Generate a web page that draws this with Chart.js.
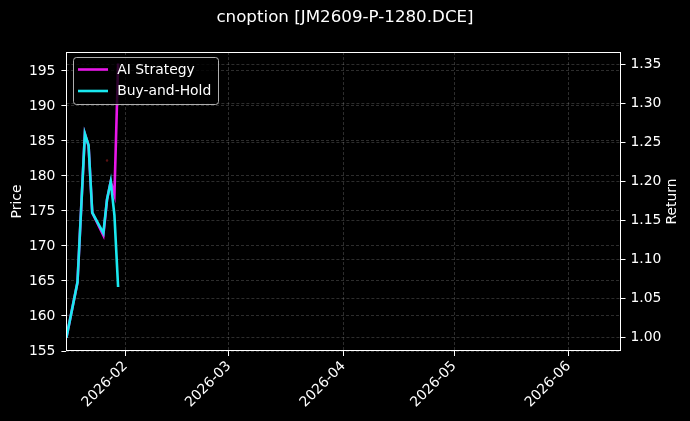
<!DOCTYPE html>
<html>
<head>
<meta charset="utf-8">
<script src="https://cdn.jsdelivr.net/npm/chart.js@4.4.1/dist/chart.umd.min.js"></script>
<style>
  html, body { margin: 0; padding: 0; background: #000; }
  #wrap { width: 690px; height: 421px; }
</style>
</head>
<body>
<div id="wrap"><canvas id="chart" width="690" height="421"></canvas></div>
<script>
// ===== Data =====
const chartTitle = "cnoption [JM2609-P-1280.DCE]";
const dates = ["2026-01-16", "2026-01-19", "2026-01-21", "2026-01-22", "2026-01-23",
               "2026-01-26", "2026-01-27", "2026-01-28", "2026-01-29", "2026-01-30"];
const aiStrategy = [1.000, 1.071, 1.261, 1.246, 1.160, 1.131, 1.177, 1.200, 1.183, 1.351];
const buyAndHold = [1.000, 1.071, 1.261, 1.246, 1.160, 1.134, 1.177, 1.200, 1.157, 1.065];
const signalDates = ["2026-01-27"];
const signalPrices = [182.2];

const monthTicks = ["2026-02-01", "2026-03-01", "2026-04-01", "2026-05-01", "2026-06-01"];
const priceTicks = [155, 160, 165, 170, 175, 180, 185, 190, 195];
const returnTicks = [1.00, 1.05, 1.10, 1.15, 1.20, 1.25, 1.30, 1.35];
const xRange = ["2026-01-16", "2026-06-15"];
const priceRange = [155, 197.7];
const returnRange = [0.983, 1.3657];

// ===== Helpers =====
const DAY = 86400000;
const toDay = (s) => Date.parse(s + "T00:00:00Z") / DAY;
const fmtMonth = (d) => new Date(d * DAY).toISOString().slice(0, 7);

const FONT = "DejaVu Sans";
const TICK_SIZE = 13.9;
const LINE_W = 2.6;
const gridColor = "rgba(170, 170, 170, 0.45)";

Chart.defaults.font.family = FONT;
Chart.defaults.font.size = TICK_SIZE;
Chart.defaults.color = "#fff";

// frame, axis titles and the boxed legend like matplotlib draws them
const framePlugin = {
  id: "frame",
  afterDatasetsDraw(chart) {
    const { ctx, chartArea: a } = chart;
    ctx.save();
    ctx.strokeStyle = "#fff";
    ctx.lineWidth = 1;
    const l = Math.round(a.left) + 0.5, t = Math.round(a.top) + 0.5;
    const r = Math.round(a.right) - 0.5, b = Math.round(a.bottom) - 0.5;
    ctx.strokeRect(l, t, r - l, b - t);

    // axis titles, both read bottom-to-top
    ctx.fillStyle = "#fff";
    ctx.font = `${TICK_SIZE}px "${FONT}"`;
    ctx.textAlign = "center";
    ctx.textBaseline = "middle";
    const midY = (a.top + a.bottom) / 2;
    [["Price", 17], ["Return", 672]].forEach(([txt, x]) => {
      ctx.save();
      ctx.translate(x, midY);
      ctx.rotate(-Math.PI / 2);
      ctx.fillText(txt, 0, 0);
      ctx.restore();
    });

    // legend
    const items = chart.data.datasets.filter(ds => ds.inLegend !== false);
    const boxX = Math.round(a.left + 6.6) + 0.5, boxY = Math.round(a.top + 5.3) + 0.5;
    const rowH = 21.5;
    const textW = Math.max(...items.map(ds => ctx.measureText(ds.label).width));
    const boxW = Math.round(43.7 + textW + 7.5);
    const boxH = Math.round(items.length * rowH + 4);
    ctx.beginPath();
    ctx.roundRect(boxX, boxY, boxW, boxH, 3);
    ctx.fillStyle = "rgba(0, 0, 0, 0.8)";
    ctx.fill();
    ctx.strokeStyle = "rgba(204, 204, 204, 0.85)";
    ctx.stroke();
    ctx.textAlign = "left";
    items.forEach((ds, i) => {
      const y = boxY + 12 + i * rowH;
      ctx.strokeStyle = ds.borderColor;
      ctx.lineWidth = LINE_W;
      ctx.beginPath();
      ctx.moveTo(boxX + 4.5, y);
      ctx.lineTo(boxX + 34.5, y);
      ctx.stroke();
      ctx.fillStyle = "#fff";
      ctx.fillText(ds.label, boxX + 43.7, y + 0.5);
    });
    ctx.restore();
  }
};

const toPoints = (xs, ys) => xs.map((d, i) => ({ x: toDay(d), y: ys[i] }));

const axisGrid = {
  color: gridColor,
  lineWidth: 0.6,
  tickColor: "#fff",
  tickWidth: 1,
  tickLength: 5,
  tickBorderDash: []
};

const ctx = document.getElementById("chart").getContext("2d");

new Chart(ctx, {
  type: "line",
  data: {
    datasets: [
      {
        label: "AI Strategy",
        data: toPoints(dates, aiStrategy),
        borderColor: "#e817e8",
        borderWidth: LINE_W,
        pointRadius: 0,
        tension: 0,
        yAxisID: "y1",
        order: 2
      },
      {
        label: "Buy-and-Hold",
        data: toPoints(dates, buyAndHold),
        borderColor: "#1ae8ef",
        borderWidth: LINE_W,
        pointRadius: 0,
        tension: 0,
        yAxisID: "y1",
        order: 1
      },
      {
        label: "signal",
        inLegend: false,
        data: toPoints(signalDates, signalPrices),
        showLine: false,
        pointRadius: 1.2,
        pointBorderWidth: 0,
        pointBackgroundColor: "#5a1212",
        yAxisID: "y",
        order: 3
      }
    ]
  },
  options: {
    responsive: false,
    animation: false,
    devicePixelRatio: 1,
    layout: { padding: 0 },
    plugins: {
      legend: { display: false },
      tooltip: { enabled: false },
      title: {
        display: true,
        text: chartTitle,
        color: "#fff",
        font: { family: FONT, size: 16.7, weight: "normal" },
        padding: { top: 8, bottom: 24 }
      }
    },
    scales: {
      x: {
        type: "linear",
        position: "bottom",
        min: toDay(xRange[0]),
        max: toDay(xRange[1]),
        afterBuildTicks: (s) => { s.ticks = monthTicks.map(d => ({ value: toDay(d) })); },
        afterFit: (s) => { s.height = 70; },
        ticks: {
          autoSkip: false,
          minRotation: 45,
          maxRotation: 45,
          padding: 2,
          callback: (v) => fmtMonth(v)
        },
        grid: axisGrid,
        border: { display: false, dash: [3, 2] }
      },
      y: {
        position: "left",
        min: priceRange[0],
        max: priceRange[1],
        afterBuildTicks: (s) => { s.ticks = priceTicks.map(v => ({ value: v })); },
        afterFit: (s) => { s.width = 66.4; },
        ticks: { padding: 6, callback: (v) => String(v) },
        grid: axisGrid,
        border: { display: false, dash: [3, 2] }
      },
      y1: {
        position: "right",
        min: returnRange[0],
        max: returnRange[1],
        afterBuildTicks: (s) => { s.ticks = returnTicks.map(v => ({ value: v })); },
        afterFit: (s) => { s.width = 69.5; },
        ticks: { padding: 5, callback: (v) => v.toFixed(2) },
        grid: axisGrid,
        border: { display: false, dash: [3, 2] }
      }
    }
  },
  plugins: [framePlugin]
});
</script>
</body>
</html>
